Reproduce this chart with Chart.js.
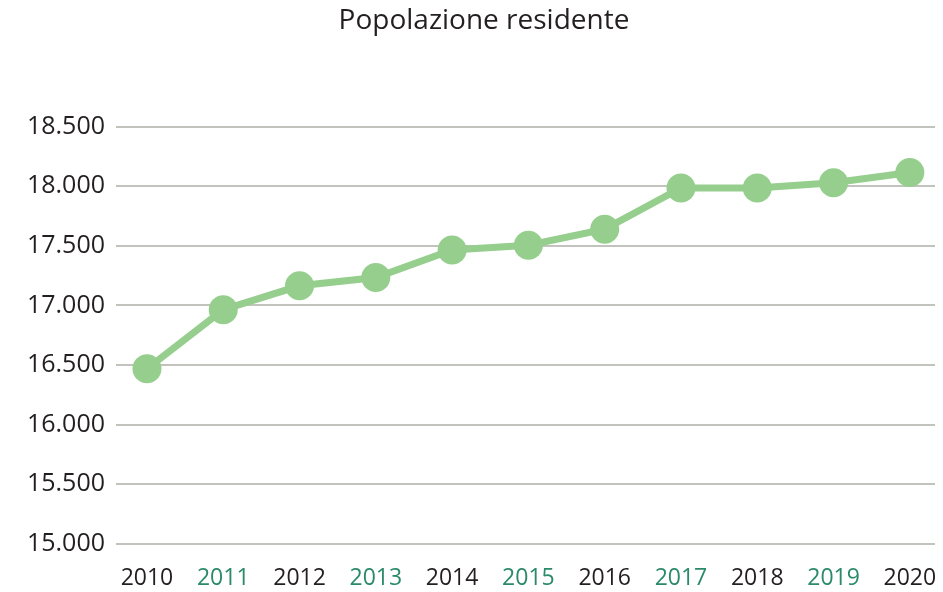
<!DOCTYPE html>
<html>
<head>
<meta charset="utf-8">
<script src="https://cdn.jsdelivr.net/npm/chart.js@4/dist/chart.umd.min.js"></script>
<style>
  html, body { margin: 0; padding: 0; background: #ffffff; }
  #wrap { width: 943px; height: 592px; position: relative; }
</style>
</head>
<body>
<div id="wrap"><canvas id="c" width="943" height="592"></canvas></div>
<script>
const title = "Popolazione residente";
const years = [2010, 2011, 2012, 2013, 2014, 2015, 2016, 2017, 2018, 2019, 2020];
const population = [16470, 16965, 17165, 17235, 17465, 17505, 17640, 17985, 17985, 18030, 18115];
const yTicks = [15000, 15500, 16000, 16500, 17000, 17500, 18000, 18500];

const fmt = v => v.toLocaleString('it-IT');

function noOverhang(s) {
  s.paddingLeft = 0; s.paddingRight = 0; s.paddingTop = 0; s.paddingBottom = 0;
  if (s._margins) { s._margins.left = 0; s._margins.right = 0; s._margins.top = 0; s._margins.bottom = 0; }
}

new Chart(document.getElementById('c'), {
  type: 'line',
  data: {
    datasets: [{
      data: years.map((y, i) => ({ x: y, y: population[i] })),
      borderColor: '#96ce8e',
      backgroundColor: '#96ce8e',
      borderWidth: 7,
      pointRadius: 14.5,
      pointHoverRadius: 14.5,
      pointBackgroundColor: '#96ce8e',
      pointBorderWidth: 0,
      tension: 0,
      clip: false
    }]
  },
  options: {
    responsive: false,
    animation: false,
    devicePixelRatio: 1,
    layout: { autoPadding: false, padding: { left: 26, right: 1, top: 0, bottom: 0 } },
    plugins: {
      legend: { display: false },
      tooltip: { enabled: false },
      title: {
        display: true,
        text: title,
        color: '#231f20',
        font: { family: "'Open Sans', sans-serif", size: 28, weight: 'normal' },
        padding: { top: 4, bottom: 89 }
      }
    },
    scales: {
      x: {
        type: 'linear',
        min: 2009.594,
        max: 2020.33,
        afterBuildTicks: s => { s.ticks = years.map(v => ({ value: v })); },
        afterFit: s => { s.height = 48; noOverhang(s); },
        grid: { display: true, color: 'rgba(0,0,0,0)', drawOnChartArea: false, drawTicks: true, tickLength: 21 },
        border: { display: false },
        ticks: {
          autoSkip: false,
          maxRotation: 0,
          padding: 0,
          font: { family: "'Open Sans', sans-serif", size: 23 },
          color: ctx => (ctx.index % 2 === 1 ? '#2a8a6a' : '#231f20'),
          callback: v => String(v)
        }
      },
      y: {
        min: 15000,
        max: 18500,
        afterBuildTicks: s => { s.ticks = yTicks.map(v => ({ value: v })); },
        afterFit: s => { s.width = 90; noOverhang(s); },
        grid: { color: '#c3c3be', lineWidth: 2, drawTicks: false },
        border: { display: false },
        ticks: {
          padding: 11,
          font: { family: "'Open Sans', sans-serif", size: 25 },
          color: '#231f20',
          callback: v => fmt(v)
        }
      },
      yRight: {
        position: 'right',
        display: true,
        min: 15000,
        max: 18500,
        afterFit: s => { s.width = 7; noOverhang(s); },
        grid: { display: false, drawTicks: false },
        border: { display: false },
        ticks: { display: false }
      }
    }
  }
});
</script>
</body>
</html>
